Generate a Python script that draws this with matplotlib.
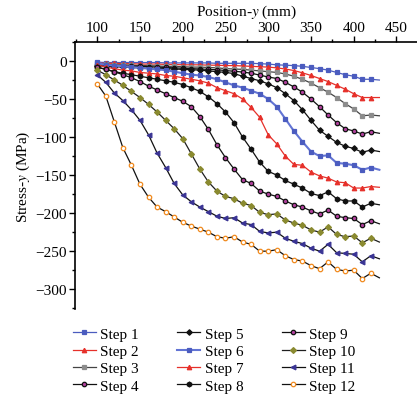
import numpy as np
import matplotlib
matplotlib.use('Agg')
import matplotlib.pyplot as plt
from matplotlib.ticker import MultipleLocator

plt.rcParams['font.family'] = ['Liberation Serif', 'DejaVu Serif']
plt.rcParams['mathtext.fontset'] = 'stix'

# positions along y (mm), one value per marker, last one is the line end
position = np.arange(100, 431, 10)

step1 = [-1.5, -2, -2, -2, -2, -2, -2, -2, -2.5, -2.5, -2.5, -2.5, -2.5, -2.5, -3, -3, -3,
         -3, -3, -3.5, -4, -5, -5.5, -6, -7, -8.5, -10, -12, -15, -18, -20, -24, -24, -25]
step2 = [-3, -3, -3, -3.5, -3.5, -4, -4, -4, -4.5, -4.5, -5, -5, -5, -5.5, -5.5, -6, -6,
         -6.5, -7, -7.5, -8, -9, -10.5, -12.5, -15.5, -19, -23, -27, -32, -37, -43, -48, -48, -48]
step3 = [-4, -4.5, -5, -5, -5.5, -6, -6, -6.5, -7, -7, -7.5, -8, -8, -8.5, -9, -10, -10.5,
         -11, -12, -13, -14, -15, -17, -20, -24, -29, -35, -41, -48, -56, -63, -72, -71, -72]
step4 = [-5, -5.5, -6, -6.5, -7, -7, -7.5, -8, -8.5, -9, -9.5, -10, -10.5, -11, -11.5, -12.5, -13.5,
         -14.5, -16, -18.5, -21, -23, -28, -34, -41, -50, -60, -71, -81, -89, -92, -96, -93, -95]
step5 = [-6, -7, -7.5, -8, -8.5, -9, -9.5, -10, -10, -10.5, -11, -11.5, -12, -13, -14, -15, -16.5,
         -20, -23, -26, -30, -35, -43, -52, -64, -78, -91, -99, -107, -112, -115, -120, -117, -119]
step6 = [-3, -5, -6, -7, -8, -9, -10, -11, -12, -14, -16, -18, -19, -21, -24, -28, -32,
         -35, -39, -43, -50, -60, -76, -92, -106, -119, -125, -124, -134, -135, -137, -143, -140, -143]
step7 = [-5, -8, -10, -12, -13, -15, -16, -17, -19, -20, -22, -24, -26, -29, -35, -39, -43,
         -50, -61, -74, -97, -109, -125, -136, -137, -146, -151, -154, -159, -160, -167, -167, -165, -166]
step8 = [-8, -11, -14, -16, -18, -20, -22, -24, -26, -28, -31, -35, -40, -47, -56, -67, -81,
         -100, -116, -133, -145, -150, -157, -162, -167, -174, -177, -172, -181, -184, -184, -192, -187, -189]
step9 = [-8, -11, -14, -18, -22, -27, -33, -38, -43, -48, -53, -60, -73, -90, -110, -127, -142,
         -156, -161, -171, -175, -178, -184, -189, -192, -197, -201, -196, -204, -206, -207, -215, -210, -214]
step10 = [-12, -18, -25, -32, -40, -48, -57, -67, -78, -89, -102, -122, -142, -159, -171, -178, -181,
          -187, -190, -199, -202, -201, -209, -213, -216, -222, -225, -218, -228, -231, -230, -239, -233, -238]
step11 = [-18, -28, -42, -52, -64, -78, -97, -121, -140, -161, -176, -185, -192, -198, -204, -207, -206,
          -213, -215, -224, -226, -225, -233, -237, -240, -246, -250, -241, -252, -253, -254, -264, -256, -260]
step12 = [-30, -46, -80, -114, -137, -162, -179, -192, -198, -205, -212, -217, -221, -225, -231, -233, -231,
          -238, -241, -250, -250, -248, -256, -261, -263, -269, -273, -264, -274, -276, -275, -286, -279, -285]

labels = ['Step %d' % i for i in range(1, 13)]
series = [step1, step2, step3, step4, step5, step6, step7, step8, step9, step10, step11, step12]

# line colour, marker, face colour, edge colour, marker size, line width
styles = [
    ('#4b5cbf', 's', '#4b5cbf', '#4b5cbf', 2.8, 0.9),
    ('#e6302a', '^', '#e6302a', '#e6302a', 3.2, 0.9),
    ('#444444', 's', '#8c8c8c', '#8c8c8c', 2.8, 0.9),
    ('#111111', 'o', '#b0409c', '#111111', 3.2, 0.9),
    ('#111111', 'D', '#111111', '#111111', 2.8, 0.9),
    ('#6274d4', 's', '#4b5cbf', '#4b5cbf', 3.0, 1.5),
    ('#e6302a', '^', '#e6302a', '#e6302a', 3.2, 0.9),
    ('#111111', 'h', '#111111', '#111111', 3.5, 0.9),
    ('#111111', 'o', '#b0409c', '#111111', 3.2, 0.9),
    ('#1e1e1e', 'D', '#8a8a30', '#8a8a30', 3.0, 0.9),
    ('#111111', '<', '#3a3494', '#3a3494', 3.4, 0.9),
    ('#111111', 'o', 'white', '#f08a1e', 3.2, 0.9),
]

fig = plt.figure(figsize=(4.17, 4.02), dpi=100)
ax = fig.add_axes([75 / 417, 92 / 402, 342 / 417, 267 / 402])

handles = []
for vals, lab, (lc, mk, fc, ec, ms, lw) in zip(series, labels, styles):
    h, = ax.plot(position, vals, color=lc, lw=lw, marker=mk, markersize=ms,
                 markerfacecolor=fc, markeredgecolor=ec, markeredgewidth=0.9,
                 markevery=slice(0, len(vals) - 1), label=lab)
    handles.append(h)

ax.set_xlim(74, 474)
ax.set_ylim(-326, 25)
ax.xaxis.tick_top()
ax.xaxis.set_label_position('top')
ax.set_xlabel('Position-$y$ (mm)', fontsize=11, labelpad=4)
ax.set_ylabel('Stress-$y$ (MPa)', fontsize=11, labelpad=2)
ax.set_xticks(np.arange(100, 451, 50))
ax.set_yticks(np.arange(-300, 1, 50))
ax.xaxis.set_minor_locator(MultipleLocator(25))
ax.yaxis.set_minor_locator(MultipleLocator(25))
ax.tick_params(which='major', direction='out', length=4, width=1, labelsize=11, pad=2)
ax.tick_params(which='minor', direction='out', length=2.5, width=1)
ax.spines['right'].set_visible(False)
ax.spines['bottom'].set_visible(False)
ax.spines['top'].set_linewidth(1.2)
ax.spines['left'].set_linewidth(1.2)

fig.legend(handles=handles, loc='upper left', bbox_to_anchor=(73 / 417, 1 - 328 / 402),
           ncol=3, frameon=False, fontsize=11, handlelength=1.5, handletextpad=0.3,
           labelspacing=0.24, columnspacing=2.5, numpoints=1, borderpad=0, borderaxespad=0)

fig.savefig('out.png', dpi=100)
